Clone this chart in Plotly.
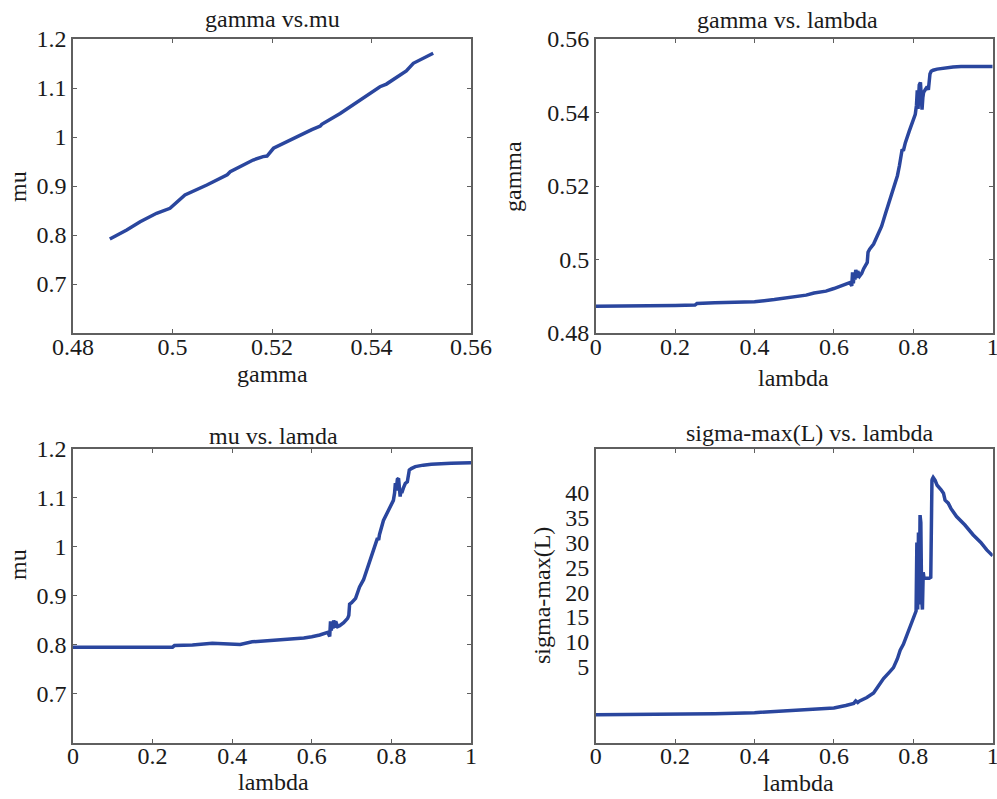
import plotly.graph_objects as go

# ---------------- data ----------------
# top-left: gamma vs mu
gm_gamma = [0.4874, 0.4890, 0.4908, 0.4935, 0.4968, 0.4995, 0.5025, 0.5069, 0.5105, 0.5110,
            0.5116, 0.5162, 0.5182, 0.5190, 0.5203, 0.5256, 0.5280, 0.5297, 0.5300, 0.5337,
            0.5384, 0.5417, 0.5430, 0.5457, 0.5470, 0.5484, 0.5524]
gm_mu = [0.7918, 0.8000, 0.8102, 0.8270, 0.8443, 0.8545, 0.8816, 0.9020, 0.9190, 0.9230,
         0.9290, 0.9530, 0.9600, 0.9610, 0.9770, 1.0040, 1.0150, 1.0224, 1.0260, 1.0480,
         1.0790, 1.1027, 1.1080, 1.1265, 1.1350, 1.1504, 1.1708]

# top-right: gamma vs lambda
lam_g = [0, 0.05, 0.10, 0.15, 0.20, 0.25, 0.255, 0.30, 0.35, 0.40, 0.45, 0.50, 0.53, 0.55,
         0.58, 0.60, 0.62, 0.64, 0.645, 0.647, 0.649, 0.651, 0.653, 0.655, 0.658, 0.66,
         0.665, 0.67, 0.675, 0.68, 0.684, 0.686, 0.69, 0.70, 0.71, 0.72, 0.73, 0.74, 0.75,
         0.76, 0.765, 0.77, 0.772, 0.775, 0.78, 0.79, 0.80, 0.805, 0.808, 0.81, 0.812,
         0.815, 0.818, 0.82, 0.822, 0.824, 0.826, 0.83, 0.835, 0.838, 0.84, 0.842, 0.845,
         0.85, 0.86, 0.87, 0.88, 0.90, 0.92, 0.95, 1.0]
gamma_vals = [0.4873, 0.4873, 0.4874, 0.4874, 0.4875, 0.4876, 0.4880, 0.4882, 0.4884, 0.4885,
              0.4891, 0.4897, 0.4903, 0.4909, 0.4914, 0.4921, 0.4929, 0.4937, 0.4928, 0.4965,
              0.4935, 0.4960, 0.4945, 0.4972, 0.4950, 0.4968, 0.4955, 0.4962, 0.4975, 0.4985,
              0.4992, 0.5020, 0.5028, 0.5042, 0.5065, 0.5090, 0.5125, 0.5160, 0.5192, 0.5228,
              0.5255, 0.5285, 0.5300, 0.5296, 0.5318, 0.5350, 0.5378, 0.5395, 0.5420, 0.5460,
              0.5410, 0.5475, 0.5482, 0.5430, 0.5408, 0.5440, 0.5455, 0.5462, 0.5470, 0.5462,
              0.5480, 0.5505, 0.5512, 0.5515, 0.5518, 0.5520, 0.5522, 0.5524, 0.5525, 0.5525,
              0.5525]

# bottom-left: mu vs lambda
lam_m = [0, 0.05, 0.10, 0.15, 0.20, 0.25, 0.255, 0.30, 0.35, 0.40, 0.42, 0.45, 0.50, 0.53,
         0.55, 0.58, 0.60, 0.62, 0.64, 0.645, 0.647, 0.649, 0.651, 0.653, 0.655, 0.658, 0.66,
         0.665, 0.67, 0.68, 0.69, 0.693, 0.695, 0.70, 0.71, 0.72, 0.73, 0.74, 0.75, 0.76,
         0.765, 0.768, 0.77, 0.78, 0.79, 0.80, 0.805, 0.808, 0.81, 0.812, 0.815, 0.818, 0.82,
         0.822, 0.824, 0.826, 0.83, 0.835, 0.84, 0.842, 0.845, 0.85, 0.86, 0.88, 0.90, 0.95,
         1.0]
mu_vals = [0.7950, 0.7950, 0.7948, 0.7950, 0.7950, 0.7952, 0.7985, 0.7995, 0.8030, 0.8015,
           0.8008, 0.8060, 0.8090, 0.8100, 0.8125, 0.8140, 0.8165, 0.8200, 0.8255, 0.8170,
           0.8480, 0.8290, 0.8460, 0.8330, 0.8500, 0.8350, 0.8480, 0.8370, 0.8390, 0.8450,
           0.8540, 0.8600, 0.8830, 0.8860, 0.8950, 0.9180, 0.9330, 0.9560, 0.9800, 1.0020,
           1.0180, 1.0140, 1.0250, 1.0540, 1.0700, 1.0860, 1.0950, 1.1100, 1.1300, 1.1150,
           1.1380, 1.1400, 1.1200, 1.1030, 1.1150, 1.1100, 1.1200, 1.1300, 1.1330, 1.1500,
           1.1570, 1.1600, 1.1640, 1.1670, 1.1690, 1.1710, 1.1720]

# bottom-right: sigma-max(L) vs lambda
lam_s = [0, 0.1, 0.2, 0.3, 0.4, 0.45, 0.5, 0.55, 0.6, 0.63, 0.65, 0.655, 0.66, 0.665,
         0.683, 0.70, 0.71, 0.725, 0.74, 0.75, 0.76, 0.767, 0.775, 0.78, 0.785, 0.792,
         0.798, 0.804, 0.807, 0.809, 0.811, 0.813, 0.815, 0.817, 0.819, 0.821, 0.823, 0.825,
         0.827, 0.83, 0.835, 0.84, 0.844, 0.845, 0.846, 0.847, 0.848, 0.85, 0.855, 0.86,
         0.87, 0.876, 0.88, 0.888, 0.895, 0.909, 0.93, 0.951, 0.97, 0.985, 1.0]
sigma_vals = [-4.7, -4.65, -4.6, -4.45, -4.25, -4.05, -3.8, -3.55, -3.3, -2.8, -2.4, -1.9,
              -2.2, -1.9, -1.2, -0.3, 0.9, 2.6, 3.9, 4.8, 6.6, 8.3, 9.5, 10.6, 11.8, 13.3,
              14.6, 15.7, 16.2, 30.0, 16.5, 32.0, 17.5, 35.5, 34.0, 19.0, 16.5, 24.0, 22.8,
              22.8, 22.8, 22.8, 23.0, 42.0, 23.5, 42.5, 42.8, 43.1, 42.5, 41.5, 40.6, 39.9,
              38.5, 37.9, 36.8, 35.2, 33.5, 31.5, 30.0, 28.5, 27.3]

# tick labels
tl_x_vals = [0.48, 0.50, 0.52, 0.54, 0.56]
tl_x_text = ["0.48", "0.5", "0.52", "0.54", "0.56"]
mu_tick_vals = [0.7, 0.8, 0.9, 1.0, 1.1, 1.2]
mu_tick_text = ["0.7", "0.8", "0.9", "1", "1.1", "1.2"]
gamma_tick_vals = [0.48, 0.50, 0.52, 0.54, 0.56]
gamma_tick_text = ["0.48", "0.5", "0.52", "0.54", "0.56"]
lam_tick_vals = [0, 0.2, 0.4, 0.6, 0.8, 1.0]
lam_tick_text = ["0", "0.2", "0.4", "0.6", "0.8", "1"]
sig_tick_vals = [5, 10, 15, 20, 25, 30, 35, 40]
sig_tick_text = ["5", "10", "15", "20", "25", "30", "35", "40"]
sig_range = [-10.3, 48.8]
sig_mark_vals = [1, 2, 3, 4, 5, 6]   # unlabelled tick marks, in sevenths of the panel height

# ---------------- style ----------------
W, H = 997, 799
FONT = "Liberation Serif"
LINE_COLOR = "rgb(42,70,158)"
AX_COLOR = "#5f5f5f"
TXT = "#1a1a1a"
TICK_SIZE = 24
TITLE_SIZE = 24
LABEL_SIZE = 24

def px_x(p):
    return p / W

def px_y(p):
    return (H - p) / H

XL = [px_x(73), px_x(471)]
XR = [px_x(595.7), px_x(992.7)]
YT = [px_y(333), px_y(39)]
YB = [px_y(742.7), px_y(449)]

def axis(domain, rng, tv, tt, anchor, **kw):
    d = dict(domain=domain, range=rng, tickmode="array", tickvals=tv, ticktext=tt,
             showline=True, linecolor=AX_COLOR, linewidth=1.5, mirror="ticks",
             ticks="inside", ticklen=4, tickwidth=1, tickcolor=AX_COLOR,
             showgrid=False, zeroline=False, anchor=anchor, automargin=False,
             ticklabeloverflow="allow",
             tickfont=dict(family=FONT, size=TICK_SIZE, color=TXT))
    d.update(kw)
    return d

fig = go.Figure()
line = dict(color=LINE_COLOR, width=3.5)
fig.add_trace(go.Scatter(x=gm_gamma, y=gm_mu, mode="lines", line=line, xaxis="x", yaxis="y"))
fig.add_trace(go.Scatter(x=lam_g, y=gamma_vals, mode="lines", line=line, xaxis="x2", yaxis="y2"))
fig.add_trace(go.Scatter(x=lam_m, y=mu_vals, mode="lines", line=line, xaxis="x3", yaxis="y3"))
fig.add_trace(go.Scatter(x=lam_s, y=sigma_vals, mode="lines", line=line, xaxis="x4", yaxis="y4"))

XSTAND = -9
fig.update_layout(
    template="none",
    width=W, height=H, margin=dict(l=0, r=0, t=0, b=0, autoexpand=False),
    paper_bgcolor="white", plot_bgcolor="white", showlegend=False,
    font=dict(family=FONT, color=TXT),
    xaxis=axis(XL, [0.48, 0.56], tl_x_vals, tl_x_text, "y", ticklabelstandoff=XSTAND),
    yaxis=axis(YT, [0.6, 1.2], mu_tick_vals, mu_tick_text, "x"),
    xaxis2=axis(XR, [0, 1], lam_tick_vals, lam_tick_text, "y2", ticklabelstandoff=XSTAND),
    yaxis2=axis(YT, [0.48, 0.56], gamma_tick_vals, gamma_tick_text, "x2"),
    xaxis3=axis(XL, [0, 1], lam_tick_vals, lam_tick_text, "y3", ticklabelstandoff=XSTAND),
    yaxis3=axis(YB, [0.6, 1.2], mu_tick_vals, mu_tick_text, "x3"),
    xaxis4=axis(XR, [0, 1], lam_tick_vals, lam_tick_text, "y4", ticklabelstandoff=XSTAND),
    yaxis4=axis(YB, sig_range, sig_tick_vals, sig_tick_text, "x4", ticks=""),
    # overlay axis that only carries the regular, unlabelled tick marks of the last panel
    yaxis5=dict(domain=YB, range=[0, 7], overlaying="y4", anchor="x4", side="left",
                tickmode="array", tickvals=sig_mark_vals, showticklabels=False,
                ticks="inside", ticklen=4, tickwidth=1, tickcolor=AX_COLOR,
                mirror="ticks", showline=False, showgrid=False, zeroline=False,
                automargin=False),
)

def ann(text, x, y, size, angle=0):
    fig.add_annotation(text=text, x=px_x(x), y=px_y(y), xref="paper", yref="paper",
                       showarrow=False, textangle=angle, xanchor="center", yanchor="middle",
                       font=dict(family=FONT, size=size, color=TXT))

ann("gamma vs.mu", 272, 19, TITLE_SIZE)
ann("gamma vs. lambda", 787, 20, TITLE_SIZE)
ann("mu vs. lamda", 273, 436, TITLE_SIZE)
ann("sigma-max(L) vs. lambda", 810, 433, TITLE_SIZE)
ann("gamma", 272, 374, LABEL_SIZE)
ann("lambda", 793, 378, LABEL_SIZE)
ann("lambda", 273, 782, LABEL_SIZE)
ann("lambda", 798, 783, LABEL_SIZE)
ann("mu", 18, 187, LABEL_SIZE, -90)
ann("gamma", 513, 177, LABEL_SIZE, -90)
ann("mu", 18, 565, LABEL_SIZE, -90)
ann("sigma-max(L)", 542, 596, LABEL_SIZE, -90)

fig.write_html("out.html", config={"displayModeBar": False},
               post_script="document.body.style.margin='0px';")
